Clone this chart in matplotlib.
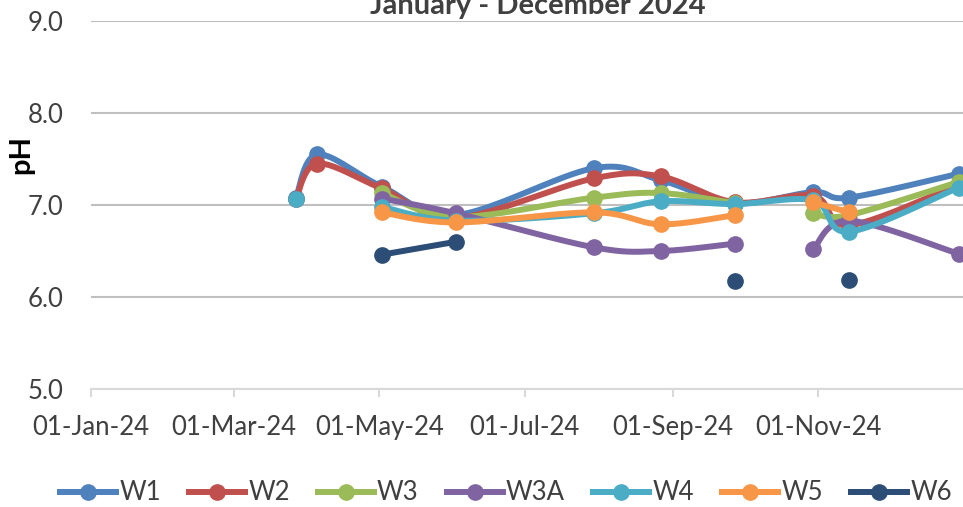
import numpy as np
import matplotlib
matplotlib.use('Agg')
import matplotlib.pyplot as plt
import matplotlib.dates as mdates
from matplotlib.lines import Line2D

plt.rcParams['font.family'] = ['Lato', 'DejaVu Sans']

# ---------------- data ----------------
dates = ['2024-03-27', '2024-04-05', '2024-05-02', '2024-06-02', '2024-07-30',
         '2024-08-27', '2024-09-27', '2024-10-30', '2024-11-14', '2024-12-30']
nan = np.nan
W1 = [7.08, 7.55, 7.20, 6.89, 7.40, 7.27, 7.02, 7.14, 7.08, 7.34]
W2 = [7.07, 7.45, 7.18, 6.86, 7.29, 7.31, 7.03, 7.10, 6.78, 7.22]
W3 = [nan, nan, 7.13, 6.87, 7.08, 7.13, 7.02, 6.91, 6.89, 7.25]
W3A = [nan, nan, 7.07, 6.91, 6.54, 6.50, 6.58, 6.52, 6.83, 6.47]
W4 = [7.06, nan, 6.98, 6.83, 6.91, 7.04, 7.01, 7.05, 6.71, 7.19]
W5 = [nan, nan, 6.92, 6.81, 6.92, 6.79, 6.89, 7.03, 6.92, nan]
W6 = [nan, nan, 6.46, 6.60, nan, nan, 6.17, nan, 6.18, nan]

series_names = ['W1', 'W2', 'W3', 'W3A', 'W4', 'W5', 'W6']
series_values = [W1, W2, W3, W3A, W4, W5, W6]
# lines are not drawn across this date for these series (gap in the source data)
break_after = {'W3': '2024-09-27', 'W3A': '2024-09-27', 'W5': '2024-09-27'}

x_tick_dates = ['2024-01-01', '2024-03-01', '2024-05-01', '2024-07-01', '2024-09-01', '2024-11-01']
x_tick_labels = ['01-Jan-24', '01-Mar-24', '01-May-24', '01-Jul-24', '01-Sep-24', '01-Nov-24']
y_ticks = [5.0, 6.0, 7.0, 8.0, 9.0]
title = 'January - December 2024'
y_label = 'pH'

colors = ['#4F81BD', '#C0504D', '#9BBB59', '#8064A2', '#4BACC6', '#F79646', '#2C4D75']


def excel_smooth(xs, ys, n=40):
    pts = np.column_stack([xs, ys]).astype(float)
    if len(pts) < 2:
        return pts
    out = [pts[0]]
    t = np.linspace(0, 1, n)[1:, None]
    for i in range(len(pts) - 1):
        p0 = pts[i - 1] if i > 0 else pts[i]
        p1 = pts[i]
        p2 = pts[i + 1]
        p3 = pts[i + 2] if i + 2 < len(pts) else pts[i + 1]
        c1 = p1 + (p2 - p0) / 6.0
        c2 = p2 - (p3 - p1) / 6.0
        b = (1 - t) ** 3 * p1 + 3 * (1 - t) ** 2 * t * c1 + 3 * (1 - t) * t ** 2 * c2 + t ** 3 * p2
        out.extend(b)
    return np.array(out)


xnum = mdates.date2num(np.array(dates, dtype='datetime64[D]'))

W, H = 963, 507
fig = plt.figure(figsize=(W / 100, H / 100), dpi=100)
ax = fig.add_axes([91 / W, (H - 389) / H, (W - 91) / W, (389 - 21) / H])

LW = 4.3
MS = 11
FS = 18.5
for k, (name, vals, col) in enumerate(zip(series_names, series_values, colors)):
    vals = np.array(vals, dtype=float)
    segs = []
    cur = []
    brk = mdates.date2num(np.datetime64(break_after[name])) if name in break_after else None
    for xv, yv in zip(xnum, vals):
        if np.isnan(yv):
            if cur:
                segs.append(cur)
            cur = []
            continue
        cur.append((xv, yv))
        if brk is not None and xv == brk:
            segs.append(cur)
            cur = []
    if cur:
        segs.append(cur)
    z = 3 + k
    for s in segs:
        s = np.array(s)
        if len(s) >= 2:
            c = excel_smooth(s[:, 0], s[:, 1])
            ax.plot(c[:, 0], c[:, 1], color=col, lw=LW, solid_capstyle='round', zorder=z)
    mask = ~np.isnan(vals)
    ax.plot(xnum[mask], vals[mask], ls='none', marker='o', ms=MS, color=col,
            markeredgecolor=col, zorder=z + 0.5, clip_on=False)

x0 = mdates.date2num(np.datetime64('2024-01-01'))
ax.set_xlim(x0, x0 + 365.8)
ax.set_ylim(5, 9)

ax.set_yticks(y_ticks)
ax.set_yticklabels([f'{v:.1f}' for v in y_ticks])
ax.set_xticks(mdates.date2num(np.array(x_tick_dates, dtype='datetime64[D]')))
ax.set_xticklabels(x_tick_labels)

txt_col = '#404040'
ax.tick_params(axis='y', length=0, pad=20, labelsize=FS, labelcolor=txt_col)
ax.tick_params(axis='x', length=6, width=1.5, color='#D9D9D9', direction='out',
               pad=13, labelsize=FS, labelcolor=txt_col)

for sp in ['top', 'right', 'left']:
    ax.spines[sp].set_visible(False)
ax.spines['bottom'].set_color('#D9D9D9')
ax.spines['bottom'].set_linewidth(1.5)
ax.spines['bottom'].set_zorder(2.5)

ax.yaxis.grid(True, color='#BFBFBF', lw=1.5)
ax.set_axisbelow(True)

fig.text(538 / W, 1 - 14 / H, title, ha='center', va='baseline', fontsize=21,
         fontweight='bold', color=txt_col)
fig.text(21 / W, 1 - 155 / H, y_label, rotation=90, ha='center', va='center',
         fontsize=21, fontweight='bold', color='#000000')

handles = [Line2D([], [], color=c, lw=LW, marker='o', ms=MS) for c in colors]
fig.legend(handles, series_names, loc='center', bbox_to_anchor=(506 / W, 14 / H),
           ncol=7, frameon=False, fontsize=FS, handlelength=2.18, handletextpad=0.12,
           columnspacing=1.1, labelcolor=txt_col, borderaxespad=0, borderpad=0)

fig.savefig('out.png', dpi=100)
